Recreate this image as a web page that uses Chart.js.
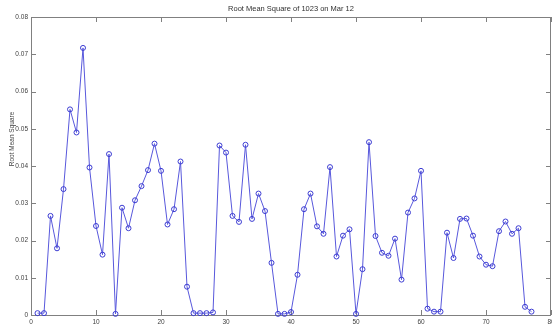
<!DOCTYPE html>
<html>
<head>
<meta charset="utf-8">
<script src="https://cdn.jsdelivr.net/npm/chart.js@4/dist/chart.umd.min.js"></script>
<style>
    html, body { margin: 0; padding: 0; background: #ffffff; }
    canvas { display: block; }
</style>
</head>
<body>
<canvas id="rmsChart" width="552" height="325"></canvas>
<script>
const sampleNumbers = [
    1, 2, 3, 4, 5, 6, 7, 8, 9, 10,
    11, 12, 13, 14, 15, 16, 17, 18, 19, 20,
    21, 22, 23, 24, 25, 26, 27, 28, 29, 30,
    31, 32, 33, 34, 35, 36, 37, 38, 39, 40,
    41, 42, 43, 44, 45, 46, 47, 48, 49, 50,
    51, 52, 53, 54, 55, 56, 57, 58, 59, 60,
    61, 62, 63, 64, 65, 66, 67, 68, 69, 70,
    71, 72, 73, 74, 75, 76, 77
];

const rmsValues = [
    0.0005, 0.0005, 0.0266, 0.0179, 0.0338, 0.0552, 0.0490, 0.0717, 0.0396, 0.0239,
    0.0162, 0.0432, 0.0003, 0.0288, 0.0233, 0.0308, 0.0346, 0.0389, 0.0460, 0.0387,
    0.0243, 0.0284, 0.0412, 0.0076, 0.0005, 0.0005, 0.0005, 0.0007, 0.0455, 0.0436,
    0.0266, 0.0250, 0.0457, 0.0258, 0.0326, 0.0279, 0.0140, 0.0003, 0.0003, 0.0008,
    0.0108, 0.0284, 0.0326, 0.0238, 0.0218, 0.0397, 0.0157, 0.0213, 0.0230, 0.0003,
    0.0123, 0.0464, 0.0212, 0.0167, 0.0159, 0.0205, 0.0095, 0.0275, 0.0313, 0.0387,
    0.0017, 0.0009, 0.0009, 0.0221, 0.0153, 0.0258, 0.0259, 0.0213, 0.0157, 0.0135,
    0.0131, 0.0225, 0.0251, 0.0218, 0.0233, 0.0022, 0.0009
];

const xTickLabels = ['0', '10', '20', '30', '40', '50', '60', '70', '80'];
const yTickLabels = ['0', '0.01', '0.02', '0.03', '0.04', '0.05', '0.06', '0.07', '0.08'];

const points = sampleNumbers.map((n, i) => ({ x: n, y: rmsValues[i] }));

// matlab style box with inward ticks on all four sides
const boxFrame = {
    id: 'boxFrame',
    beforeDatasetsDraw(chart) {
        const ctx = chart.ctx;
        const a = chart.chartArea;
        const xs = chart.scales.x;
        const ys = chart.scales.y;
        const len = 5;

        ctx.save();
        ctx.strokeStyle = '#808080';
        ctx.lineWidth = 1;
        ctx.strokeRect(Math.round(a.left) + 0.5, Math.round(a.top) + 0.5,
            Math.round(a.right - a.left) - 1, Math.round(a.bottom - a.top));

        ctx.beginPath();
        xs.ticks.forEach(t => {
            const px = Math.round(xs.getPixelForValue(t.value)) + 0.5;
            ctx.moveTo(px, a.bottom);
            ctx.lineTo(px, a.bottom - len);
            ctx.moveTo(px, a.top);
            ctx.lineTo(px, a.top + len);
        });
        ys.ticks.forEach(t => {
            const py = Math.round(ys.getPixelForValue(t.value)) + 0.5;
            ctx.moveTo(a.left, py);
            ctx.lineTo(a.left + len, py);
            ctx.moveTo(a.right, py);
            ctx.lineTo(a.right - len, py);
        });
        ctx.stroke();

        // y axis label
        ctx.translate(12, 139);
        ctx.rotate(-Math.PI / 2);
        ctx.fillStyle = '#404040';
        ctx.font = '6.5px "Liberation Sans", Arial, sans-serif';
        ctx.textAlign = 'center';
        ctx.textBaseline = 'middle';
        ctx.fillText('Root Mean Square', 0, 0);
        ctx.restore();
    }
};

const rms = document.getElementById('rmsChart');

new Chart(rms, {
    type: 'line',

    data: {
        datasets: [{
            label: 'RMS',
            data: points,
            borderColor: '#5858dc',
            borderWidth: 1,
            pointStyle: 'circle',
            pointRadius: 2.5,
            pointBorderWidth: 1,
            pointBorderColor: '#3c3cd2',
            pointBackgroundColor: 'rgba(0,0,0,0)',
            tension: 0,
            clip: false
        }]
    },

    options: {
        responsive: false,
        animation: false,
        events: [],

        layout: {
            autoPadding: false,
            padding: { left: 0, right: 1, top: 0, bottom: 0 }
        },

        plugins: {
            legend: { display: false },
            tooltip: { enabled: false },
            title: {
                display: true,
                text: 'Root Mean Square of 1023 on Mar 12',
                fullSize: false,
                color: '#303030',
                font: { family: '"Liberation Sans", Arial, sans-serif', size: 7.5, weight: 'normal' },
                padding: { top: 4, bottom: 4 }
            }
        },

        scales: {
            x: {
                type: 'linear',
                min: 0,
                max: 80,
                grid: { display: false, drawTicks: false },
                border: { display: false },
                ticks: {
                    stepSize: 10,
                    autoSkip: false,
                    maxRotation: 0,
                    padding: 3,
                    color: '#404040',
                    font: { family: '"Liberation Sans", Arial, sans-serif', size: 6.5 },
                    callback: (v, i) => xTickLabels[i]
                },
                afterFit(scale) {
                    scale.height = 10;
                    scale.paddingLeft = 0;
                    scale.paddingRight = 0;
                }
            },

            y: {
                min: 0,
                max: 0.08,
                grid: { display: false, drawTicks: false },
                border: { display: false },
                ticks: {
                    stepSize: 0.01,
                    autoSkip: false,
                    padding: 3,
                    color: '#404040',
                    font: { family: '"Liberation Sans", Arial, sans-serif', size: 6.5 },
                    callback: (v, i) => yTickLabels[i]
                },
                afterFit(scale) {
                    scale.width = 31;
                }
            }
        }
    },

    plugins: [boxFrame]
});
</script>
</body>
</html>
